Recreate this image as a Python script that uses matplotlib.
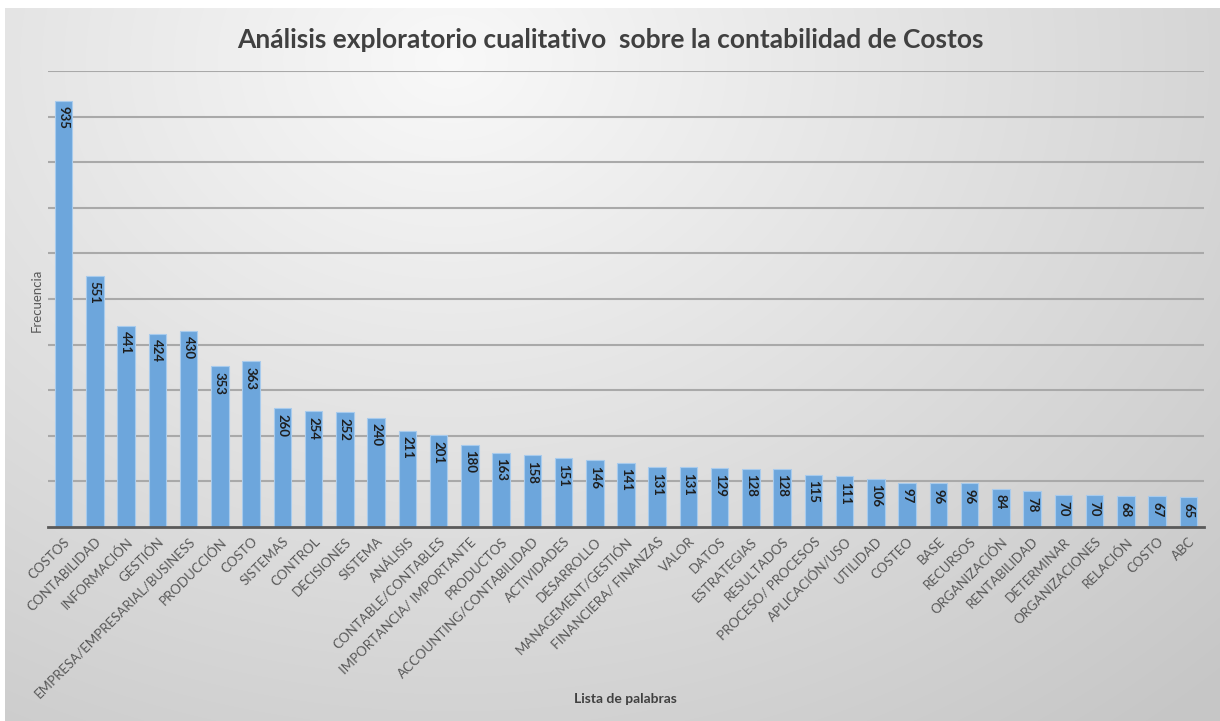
import numpy as np
import matplotlib
matplotlib.use('Agg')
import matplotlib.pyplot as plt

plt.rcParams['font.family'] = ['Lato', 'DejaVu Sans']

palabras = ['COSTOS', 'CONTABILIDAD', 'INFORMACIÓN', 'GESTIÓN', 'EMPRESA/EMPRESARIAL/BUSINESS',
            'PRODUCCIÓN', 'COSTO', 'SISTEMAS', 'CONTROL', 'DECISIONES', 'SISTEMA', 'ANÁLISIS',
            'CONTABLE/CONTABLES', 'IMPORTANCIA/ IMPORTANTE', 'PRODUCTOS', 'ACCOUNTING/CONTABILIDAD',
            'ACTIVIDADES', 'DESARROLLO', 'MANAGEMENT/GESTIÓN', 'FINANCIERA/ FINANZAS', 'VALOR',
            'DATOS', 'ESTRATEGIAS', 'RESULTADOS', 'PROCESO/ PROCESOS', 'APLICACIÓN/USO',
            'UTILIDAD', 'COSTEO', 'BASE', 'RECURSOS', 'ORGANIZACIÓN', 'RENTABILIDAD',
            'DETERMINAR', 'ORGANIZACIONES', 'RELACIÓN', 'COSTO', 'ABC']
frecuencia = [935, 551, 441, 424, 430, 353, 363, 260, 254, 252, 240, 211, 201, 180, 163, 158,
              151, 146, 141, 131, 131, 129, 128, 128, 115, 111, 106, 97, 96, 96, 84, 78,
              70, 70, 68, 67, 65]

W, H = 1220, 721
fig = plt.figure(figsize=(W / 100, H / 100), dpi=100)

# fondo degradado tipo Excel
bg = fig.add_axes([0, 0, 1, 1], zorder=-10)
yy, xx = np.mgrid[0:H, 0:W]
d = np.sqrt(((xx - 450) / 950.0) ** 2 + ((yy - 60) / 750.0) ** 2)
g = np.clip(0.975 - 0.17 * d, 0.78, 0.975)
img = np.dstack([g, g, g])
img[:8, :, :] = 1.0
img[:, :5, :] = 1.0
bg.imshow(img, aspect='auto', extent=[0, 1, 0, 1], origin='upper')
bg.axis('off')

ax = fig.add_axes([48 / W, 1 - 527 / H, (1204 - 48) / W, (527 - 71) / H])
ax.set_facecolor('none')
x = np.arange(len(palabras))
ax.bar(x, frecuencia, width=0.56, color='#6da6dc', edgecolor='#a8cbed', linewidth=0.8, zorder=3)
for xi, v in zip(x, frecuencia):
    ax.annotate(str(v), (xi, v), xytext=(0, -4), textcoords='offset points',
                ha='center', va='top', rotation=270, fontsize=9.5, fontweight='bold',
                color='#1e1e1e', zorder=4)

ax.set_ylim(0, 1000)
ax.set_xlim(-0.5, len(palabras) - 0.5)
ax.set_yticks(np.arange(100, 1001, 100))
ax.yaxis.grid(True, color='#a9a9a9', linewidth=1.5, zorder=0)
ax.tick_params(axis='y', length=0, labelleft=False)
ax.tick_params(axis='x', length=0, pad=6)
ax.set_xticks(x)
ax.set_xticklabels(palabras, rotation=45, ha='right', rotation_mode='anchor',
                   fontsize=9.5, color='#595959')
for s in ['top', 'right', 'left']:
    ax.spines[s].set_visible(False)
ax.spines['bottom'].set_color('#595959')
ax.spines['bottom'].set_linewidth(2)
ax.spines['bottom'].set_zorder(5)

fig.text(610 / W, 1 - 40 / H, 'Análisis exploratorio cualitativo  sobre la contabilidad de Costos',
         ha='center', va='center', fontsize=19, fontweight='bold', color='#404040')
fig.text(37 / W, 1 - 300 / H, 'Frecuencia', ha='center', va='center', rotation=90,
         fontsize=9.5, color='#595959')
fig.text(625 / W, 1 - 699 / H, 'Lista de palabras', ha='center', va='center',
         fontsize=10, fontweight='bold', color='#404040')

fig.savefig('out.png', dpi=100)
